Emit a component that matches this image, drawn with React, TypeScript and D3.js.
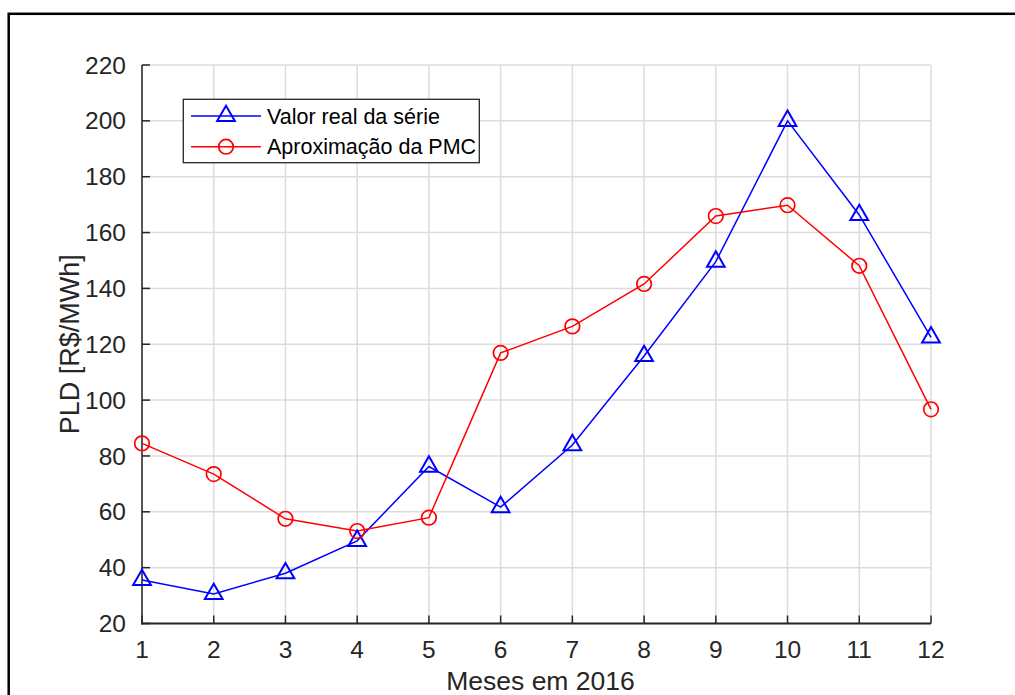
import React from "react";
import * as d3 from "d3";

const months = [1, 2, 3, 4, 5, 6, 7, 8, 9, 10, 11, 12];
const realValues = [35.6, 30.6, 38, 49.6, 76.2, 61.7, 83.9, 115.8, 149.6, 200, 166.3, 122.5];
const pmcValues = [84.5, 73.5, 57.5, 53.1, 57.9, 116.9, 126.4, 141.6, 165.9, 169.8, 148.1, 96.7];
const yTicks = [20, 40, 60, 80, 100, 120, 140, 160, 180, 200, 220];
const seriesNames = ["Valor real da série", "Aproximação da PMC"];
const xLabel = "Meses em 2016";
const yLabel = "PLD [R$/MWh]";

const W = 1015;
const H = 695;
const left = 142;
const right = 931;
const top = 65;
const bottom = 623.5;
const axisColor = "#262626";
const gridColor = "#dcdcdc";
const font = "'Liberation Sans', Arial, Helvetica, sans-serif";

export default function App() {
  const x = d3.scaleLinear().domain([1, 12]).range([left, right]);
  const y = d3.scaleLinear().domain([20, 220]).range([bottom, top]);
  const line = d3
    .line<number>()
    .x((_, i) => x(months[i]))
    .y((d) => y(d));
  const tri = d3.symbol(d3.symbolTriangle, 136)() as string;
  const tickLen = 8;

  return (
    <svg
      width={W}
      height={H}
      style={{ position: "absolute", left: 0, top: 0, background: "#fff" }}
      fontFamily={font}
    >
      <rect x={0} y={0} width={W} height={H} fill="#fff" />
      <rect x={8.7} y={13.8} width={1200} height={900} fill="none" stroke="#000" strokeWidth={2.5} />
      {/* grid */}
      {months.map((m) => (
        <line key={"gx" + m} x1={x(m)} x2={x(m)} y1={top} y2={bottom} stroke={gridColor} strokeWidth={1.5} />
      ))}
      {yTicks.map((t) => (
        <line key={"gy" + t} x1={left} x2={right} y1={y(t)} y2={y(t)} stroke={gridColor} strokeWidth={1.5} />
      ))}
      {/* axes */}
      <line x1={left} x2={left} y1={top} y2={bottom + 1} stroke={axisColor} strokeWidth={1.5} />
      <line x1={left - 0.75} x2={right} y1={bottom} y2={bottom} stroke={axisColor} strokeWidth={2} />
      {yTicks.map((t) => (
        <g key={"ty" + t}>
          <line x1={left} x2={left + tickLen} y1={y(t)} y2={y(t)} stroke={axisColor} strokeWidth={1.5} />
          <text x={left - 16} y={y(t)} dy="0.35em" textAnchor="end" fontSize={24.5} fill={axisColor}>
            {t}
          </text>
        </g>
      ))}
      {months.map((m) => (
        <g key={"tx" + m}>
          <line x1={x(m)} x2={x(m)} y1={bottom} y2={bottom - tickLen} stroke={axisColor} strokeWidth={1.5} />
          <text x={x(m)} y={658} textAnchor="middle" fontSize={24.5} fill={axisColor}>
            {m}
          </text>
        </g>
      ))}
      <text x={(left + right) / 2 + 4} y={690} textAnchor="middle" fontSize={26.5} fill={axisColor}>
        {xLabel}
      </text>
      <text
        transform={`translate(79,${(top + bottom) / 2}) rotate(-90)`}
        textAnchor="middle"
        fontSize={27}
        fill={axisColor}
      >
        {yLabel}
      </text>
      {/* series */}
      <path d={line(realValues) || ""} fill="none" stroke="#0000ff" strokeWidth={1.5} />
      <path d={line(pmcValues) || ""} fill="none" stroke="#ff0000" strokeWidth={1.5} />
      {realValues.map((v, i) => (
        <path
          key={"r" + i}
          d={tri}
          transform={`translate(${x(months[i])},${y(v)})`}
          fill="none"
          stroke="#0000ff"
          strokeWidth={2}
        />
      ))}
      {pmcValues.map((v, i) => (
        <circle key={"p" + i} cx={x(months[i])} cy={y(v)} r={7.3} fill="none" stroke="#ff0000" strokeWidth={1.7} />
      ))}
      {/* legend */}
      <rect x={183.3} y={99.3} width={296} height={63.4} fill="#fff" stroke={axisColor} strokeWidth={1.3} />
      <line x1={191} x2={261} y1={116} y2={116} stroke="#0000ff" strokeWidth={1.5} />
      <path d={tri} transform="translate(226,116)" fill="none" stroke="#0000ff" strokeWidth={2} />
      <text x={267} y={116} dy="0.35em" fontSize={21.5} fill="#000">
        {seriesNames[0]}
      </text>
      <line x1={191} x2={261} y1={146.7} y2={146.7} stroke="#ff0000" strokeWidth={1.5} />
      <circle cx={226} cy={146.7} r={7.3} fill="none" stroke="#ff0000" strokeWidth={1.7} />
      <text x={267} y={146.7} dy="0.35em" fontSize={21.5} fill="#000">
        {seriesNames[1]}
      </text>
    </svg>
  );
}
